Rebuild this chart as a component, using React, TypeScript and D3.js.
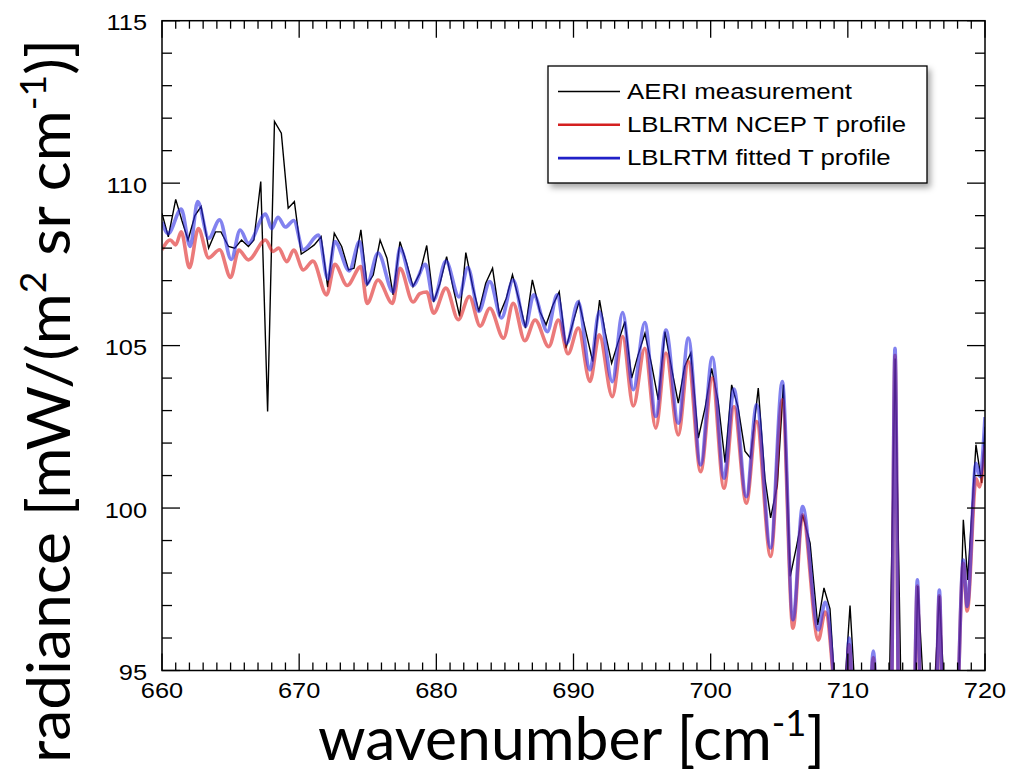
import React from 'react';
import * as d3 from 'd3';

type P = [number, number];

// AERI measurement (wavenumber cm-1, radiance)
const aeriMeasurement: P[] = [
  [660.0, 109.07], [660.46, 108.35], [661.0, 109.5], [661.45, 108.85], [661.9, 108.25],
  [662.4, 109.0], [662.85, 109.28], [663.4, 108.0], [663.9, 108.5], [664.3, 108.5],
  [664.85, 108.05], [665.3, 108.0], [665.8, 108.25], [666.3, 108.05], [666.7, 108.25],
  [667.2, 110.05], [667.7, 102.97], [668.2, 111.9], [668.7, 111.54], [669.2, 109.23],
  [669.65, 109.43], [670.15, 107.82], [670.63, 107.95], [671.1, 108.1], [671.6, 108.35],
  [672.08, 106.8], [672.56, 108.46], [673.1, 108.05], [673.6, 107.33], [674.0, 107.38],
  [674.5, 108.56], [674.95, 106.87], [675.4, 107.17], [675.9, 108.25], [676.4, 107.69],
  [676.85, 106.56], [677.35, 108.2], [677.84, 107.54], [678.3, 106.82], [678.8, 107.23],
  [679.3, 108.08], [679.8, 106.34], [680.27, 106.92], [680.75, 107.74], [681.2, 106.82],
  [681.7, 105.9], [682.15, 107.86], [682.65, 106.82], [683.1, 106.05], [683.6, 106.92],
  [684.1, 107.38], [684.6, 105.94], [685.1, 106.46], [685.55, 107.18], [686.05, 106.36],
  [686.5, 105.54], [687.0, 107.02], [687.55, 106.05], [688.0, 105.64], [688.5, 106.25],
  [688.96, 106.66], [689.45, 104.92], [689.95, 105.69], [690.4, 106.35], [690.9, 105.43],
  [691.4, 104.51], [691.9, 106.4], [692.3, 105.43], [692.78, 104.46], [693.25, 105.1],
  [693.75, 105.74], [694.24, 104.0], [694.7, 104.7], [695.21, 105.38], [695.7, 104.4],
  [696.18, 103.33], [696.67, 105.43], [697.15, 104.3], [697.64, 103.23], [698.1, 104.35],
  [698.55, 104.77], [699.1, 102.15], [699.6, 103.1], [700.07, 104.3], [700.55, 103.28],
  [701.05, 101.4], [701.53, 103.79], [702.0, 103.1], [702.5, 101.75], [702.9, 101.54],
  [703.47, 103.69], [703.96, 100.9], [704.37, 99.7], [704.86, 100.7], [705.3, 103.8],
  [705.8, 97.9], [706.25, 98.8], [706.7, 99.79], [707.25, 98.92], [707.8, 96.4],
  [708.26, 97.54], [708.7, 96.9], [709.2, 93.5], [709.7, 94.0], [710.16, 97.0],
  [710.6, 93.8], [711.1, 93.5], [711.6, 94.0], [712.05, 94.5], [712.5, 93.5],
  [713.0, 93.8], [713.45, 104.6], [713.9, 93.8], [714.4, 93.5], [714.9, 94.5],
  [715.1, 97.6], [715.6, 93.8], [716.2, 93.5], [716.67, 97.3], [717.1, 93.8],
  [717.6, 93.5], [718.1, 95.0], [718.42, 99.64], [718.74, 97.79], [719.34, 101.95],
  [719.76, 100.77], [720.0, 102.5],
];

// LBLRTM NCEP T profile (extrema of the smooth model spectrum)
const lblrtmNcep: P[] = [
  [660.0, 107.95], [660.6, 108.25], [661.0, 108.1], [661.4, 108.5], [662.0, 107.4],
  [662.65, 108.6], [663.4, 107.7], [664.2, 107.95], [665.0, 107.1], [665.6, 107.94],
  [666.3, 107.64], [667.55, 108.25], [668.1, 107.9], [668.5, 108.0], [669.1, 107.58],
  [669.6, 107.94], [670.3, 107.33], [671.0, 107.6], [672.0, 106.56], [672.6, 107.5],
  [673.5, 106.85], [674.5, 107.43], [674.95, 106.3], [675.75, 107.02], [676.8, 106.3],
  [677.35, 107.38], [678.3, 106.34], [678.8, 106.6], [679.3, 106.65], [679.8, 106.0],
  [680.7, 106.77], [681.6, 105.8], [682.4, 106.51], [683.2, 105.6], [683.9, 106.15],
  [684.9, 105.23], [685.6, 106.3], [686.45, 105.15], [687.2, 105.79], [688.2, 104.97],
  [688.9, 105.79], [689.6, 104.75], [690.35, 105.54], [691.2, 103.9], [691.88, 105.33],
  [692.83, 103.43], [693.58, 105.28], [694.36, 103.14], [695.2, 104.92], [696.0, 102.46],
  [696.74, 104.77], [697.64, 102.25], [698.37, 104.51], [699.27, 101.12], [700.12, 104.0],
  [700.97, 100.61], [701.7, 103.12], [702.6, 100.15], [703.35, 102.66], [704.37, 98.51],
  [705.22, 103.33], [706.0, 96.3], [706.7, 99.79], [707.85, 95.94], [708.35, 96.8],
  [709.65, 92.0], [710.1, 95.8], [710.55, 92.0], [711.4, 92.0], [711.86, 95.4],
  [712.3, 92.0], [713.12, 92.0], [713.44, 104.7], [713.76, 92.0], [714.74, 92.0],
  [715.07, 97.6], [715.4, 92.0], [716.34, 92.0], [716.67, 97.3], [717.0, 92.0],
  [717.8, 92.0], [718.42, 98.3], [718.7, 96.83], [719.35, 100.9], [719.6, 100.65],
  [720.0, 101.9],
];

// LBLRTM fitted T profile
const lblrtmFitted: P[] = [
  [660.0, 108.8], [660.45, 108.45], [661.4, 109.2], [662.05, 108.05], [662.6, 109.43],
  [663.4, 108.3], [664.2, 108.87], [665.05, 107.65], [665.7, 108.56], [666.3, 108.15],
  [667.55, 109.05], [668.0, 108.6], [668.45, 108.95], [669.0, 108.65], [669.6, 108.85],
  [670.3, 107.95], [671.4, 108.4], [672.1, 107.05], [672.6, 108.2], [673.65, 107.3],
  [674.4, 108.2], [674.95, 106.9], [675.75, 107.85], [676.85, 106.65], [677.35, 108.0],
  [678.3, 106.85], [679.2, 107.5], [679.8, 106.4], [680.7, 107.6], [681.65, 106.5],
  [682.3, 107.4], [683.1, 106.05], [683.9, 106.97], [684.75, 105.85], [685.6, 107.02],
  [686.5, 105.6], [687.1, 106.56], [688.1, 105.43], [688.8, 106.56], [689.5, 105.07],
  [690.35, 106.35], [691.2, 104.25], [691.88, 106.05], [692.83, 103.89], [693.58, 106.02],
  [694.36, 103.64], [695.2, 105.71], [696.0, 102.82], [696.74, 105.48], [697.64, 102.61],
  [698.37, 105.23], [699.27, 101.33], [700.12, 104.64], [700.97, 100.92], [701.7, 103.66],
  [702.6, 100.35], [703.35, 103.18], [704.37, 98.77], [705.22, 103.89], [706.0, 96.56],
  [706.7, 100.05], [707.85, 96.25], [708.35, 97.1], [709.65, 92.0], [710.1, 96.0],
  [710.55, 92.0], [711.4, 92.0], [711.86, 95.6], [712.3, 92.0], [713.12, 92.0],
  [713.44, 104.92], [713.76, 92.0], [714.74, 92.0], [715.07, 97.79], [715.4, 92.0],
  [716.34, 92.0], [716.67, 97.48], [717.0, 92.0], [717.8, 92.0], [718.42, 98.4],
  [718.7, 96.97], [719.34, 101.38], [719.63, 100.97], [720.0, 102.8],
];

const xTickLabels = [660, 670, 680, 690, 700, 710, 720];
const yTickLabels = [95, 100, 105, 110, 115];
const legendLabels = ['AERI measurement', 'LBLRTM NCEP T profile', 'LBLRTM fitted T profile'];
const legendColors = ['#000000', '#d42020', '#2020c8'];

const W = 1023;
const H = 775;
const PL = 162, PR = 985, PT = 20.7, PB = 670.5;

export default function App() {
  const x = d3.scaleLinear().domain([660, 720]).range([PL, PR]);
  const y = d3.scaleLinear().domain([95, 115]).range([PB, PT]);
  const lin = d3.line<P>().x(d => x(d[0])).y(d => y(d[1]));
  const smooth = d3.line<P>().x(d => x(d[0])).y(d => y(d[1])).curve(d3.curveMonotoneX);
  const xMinor = d3.range(660, 720.01, 1);
  const yMinor = d3.range(95, 115.01, 1);
  const tickFont = "'Liberation Sans', Arial, Helvetica, sans-serif";

  return (
    <svg width={W} height={H} style={{ position: 'absolute', left: 0, top: 0, background: '#fff' }}>
      <defs>
        <clipPath id="plotclip">
          <rect x={PL} y={PT} width={PR - PL} height={PB - PT} />
        </clipPath>
        <filter id="legshadow" x="-10%" y="-20%" width="130%" height="150%">
          <feDropShadow dx="3" dy="4" stdDeviation="3" floodColor="#000" floodOpacity="0.35" />
        </filter>
      </defs>
      <rect width={W} height={H} fill="#fff" />

      <g clipPath="url(#plotclip)">
        <path d={lin(aeriMeasurement) || ''} fill="none" stroke="#000" strokeWidth={1.4} strokeLinejoin="miter" />
        <path d={smooth(lblrtmNcep) || ''} fill="none" stroke="rgb(222,40,40)" strokeOpacity={0.62} strokeWidth={3.6} />
        <path d={smooth(lblrtmFitted) || ''} fill="none" stroke="rgb(40,40,228)" strokeOpacity={0.58} strokeWidth={3.6} />
      </g>

      {/* frame */}
      <rect x={PL} y={PT} width={PR - PL} height={PB - PT} fill="none" stroke="#000" strokeWidth={1.5} />

      {/* x ticks */}
      {xMinor.map(v => {
        const len = Math.round(v) % 10 === 0 ? 17 : 8;
        return (
          <g key={'xt' + v}>
            <line x1={x(v)} x2={x(v)} y1={PB} y2={PB - len} stroke="#000" strokeWidth={1.3} />
            <line x1={x(v)} x2={x(v)} y1={PT} y2={PT + len} stroke="#000" strokeWidth={1.3} />
          </g>
        );
      })}
      {/* y ticks */}
      {yMinor.map(v => {
        const len = Math.round(v) % 5 === 0 ? 18 : 10;
        return (
          <g key={'yt' + v}>
            <line x1={PL} x2={PL + len} y1={y(v)} y2={y(v)} stroke="#000" strokeWidth={1.3} />
            <line x1={PR} x2={PR - len} y1={y(v)} y2={y(v)} stroke="#000" strokeWidth={1.3} />
          </g>
        );
      })}

      {/* tick labels */}
      {xTickLabels.map(v => (
        <text key={'xl' + v} transform={`translate(${x(v)},698) scale(1.18,1)`} textAnchor="middle"
          fontFamily={tickFont} fontSize={21.5} fill="#000">{v}</text>
      ))}
      {yTickLabels.map(v => (
        <text key={'yl' + v} transform={`translate(147,${y(v) + 9.5}) scale(1.18,1)`} textAnchor="end"
          fontFamily={tickFont} fontSize={21.5} fill="#000">{v}</text>
      ))}

      {/* legend */}
      <rect x={548} y={66} width={379} height={117} fill="#fff" stroke="#000" strokeWidth={1.3} filter="url(#legshadow)" />
      {legendLabels.map((lab, i) => {
        const cy = 90.5 + i * 33.3;
        return (
          <g key={lab}>
            <line x1={558} x2={620} y1={cy + 1} y2={cy + 1} stroke={legendColors[i]} strokeWidth={i === 0 ? 1.4 : 2.6} />
            <text transform={`translate(627,${cy + 8}) scale(1.2,1)`} fontFamily={tickFont} fontSize={21.5} fill="#000">{lab}</text>
          </g>
        );
      })}

      {/* axis titles */}
      <text x={318} y={760} fontFamily="Lato, 'Open Sans', sans-serif" fontSize={60} fill="#000"
        textLength={507} lengthAdjust="spacingAndGlyphs">
        wavenumber [cm<tspan dy={-24} fontSize={36}>-1</tspan><tspan dy={24}>]</tspan>
      </text>
      <text transform="translate(70,763) rotate(-90)" fontFamily="Lato, 'Open Sans', sans-serif" fontSize={60} fill="#000"
        textLength={724} lengthAdjust="spacingAndGlyphs">
        radiance [mW/(m<tspan dy={-24} fontSize={36}>2</tspan><tspan dy={24}> sr cm</tspan><tspan dy={-24} fontSize={36}>-1</tspan><tspan dy={24}>)]</tspan>
      </text>
    </svg>
  );
}
